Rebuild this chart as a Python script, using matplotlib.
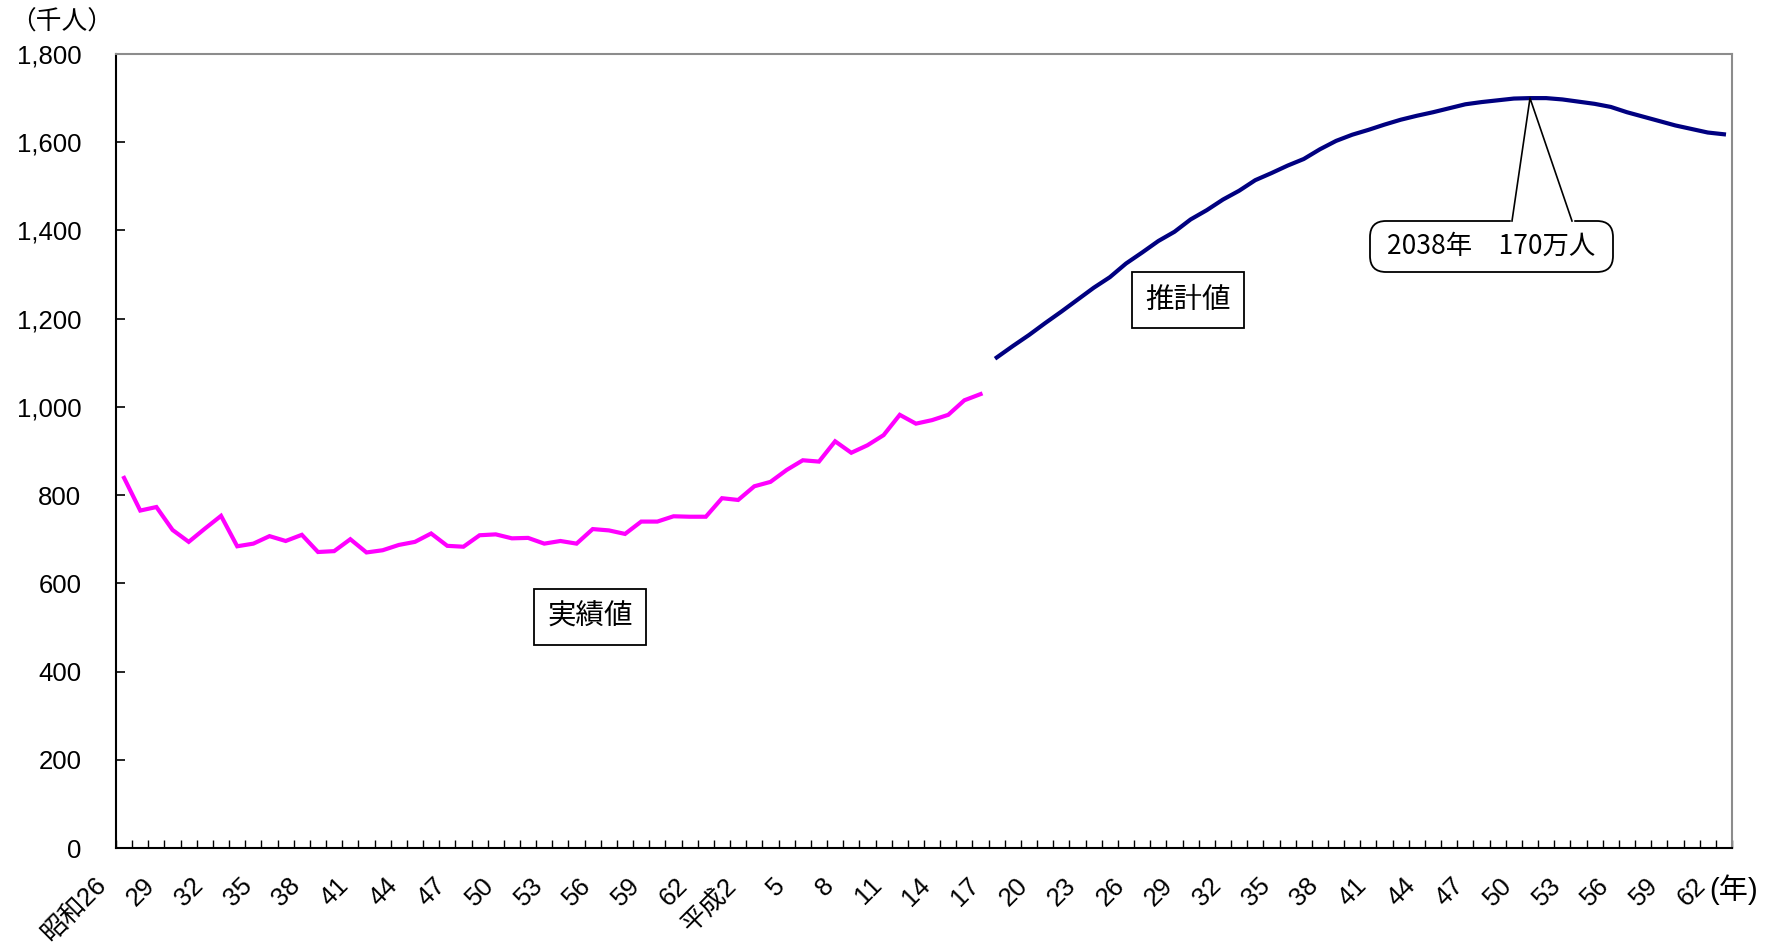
import numpy as np
import matplotlib
matplotlib.use("Agg")
import matplotlib.pyplot as plt
import matplotlib.transforms as mtransforms
from matplotlib.patches import FancyBboxPatch
from matplotlib.lines import Line2D

plt.rcParams['font.family'] = ['Liberation Sans', 'Noto Sans CJK JP']

# categories: 1951 (昭和26) .. 2050 (平成62), one slot per year
years = list(range(1951, 2051))

# actual deaths 1951-2004 [千人]
actual_deaths = [
    839, 765, 773, 721, 694, 724, 753, 684, 690, 707,
    696, 710, 671, 673, 700, 670, 675, 687, 694, 713,
    685, 683, 709, 711, 702, 703, 690, 696, 690, 723,
    720, 712, 740, 740, 752, 751, 751, 793, 789, 820,
    830, 857, 879, 876, 922, 896, 913, 936, 982, 962,
    970, 982, 1015, 1029,
]

# projected deaths 2005-2050 [千人]
projected_deaths = [
    1112, 1138, 1163, 1190, 1216, 1243, 1270, 1294, 1325, 1350,
    1376, 1397, 1425, 1446, 1470, 1490, 1514, 1530, 1547, 1562,
    1584, 1603, 1617, 1628, 1640, 1651, 1660, 1668, 1677, 1686,
    1691, 1695, 1699, 1700, 1700, 1697, 1692, 1687, 1680, 1668,
    1658, 1648, 1638, 1630, 1622, 1618,
]

# x-axis labels (every 3rd year)
tick_labels = ['昭和26', '29', '32', '35', '38', '41', '44', '47', '50', '53',
               '56', '59', '62', '平成2', '5', '8', '11', '14', '17', '20',
               '23', '26', '29', '32', '35', '38', '41', '44', '47', '50',
               '53', '56', '59', '62']

peak_year = 2038
peak_text = '2038年　170万人'

fig = plt.figure(figsize=(17.77, 9.43), dpi=100)
ax = fig.add_axes([116 / 1777, 95 / 943, 1616 / 1777, 794 / 943])

x_act = np.arange(len(actual_deaths))
x_proj = np.arange(len(actual_deaths), len(years))
ax.plot(x_act, actual_deaths, color='#FF00FF', lw=3.0, solid_joinstyle='miter')
ax.plot(x_proj, projected_deaths, color='#000080', lw=3.0)

ax.set_xlim(-0.5, len(years) - 0.5)
ax.set_ylim(0, 1800)

# y axis
ax.set_yticks(np.arange(0, 1801, 200))
ax.yaxis.set_major_formatter(matplotlib.ticker.StrMethodFormatter('{x:,.0f}'))
ax.tick_params(axis='y', direction='in', length=6.5, width=1.2, labelsize=18.5, pad=25)

# x axis: ticks between categories, labels placed by hand (rotated)
ax.set_xticks([])
ax.set_xticks(np.arange(-0.5, len(years), 1), minor=True)
ax.tick_params(axis='x', which='minor', direction='in', length=6, width=1.0)

lab_trans = mtransforms.blended_transform_factory(ax.transData, ax.transAxes) + \
    mtransforms.ScaledTranslation(-13 / 100, -25 / 100, fig.dpi_scale_trans)
for i, lab in enumerate(tick_labels):
    ax.text(i * 3, 0, lab, transform=lab_trans, rotation=45, ha='right', va='top',
            fontsize=18.5)

for side in ['left', 'bottom']:
    ax.spines[side].set_color('black')
    ax.spines[side].set_linewidth(1.5)
for side in ['top', 'right']:
    ax.spines[side].set_color('#8c8c8c')
    ax.spines[side].set_linewidth(1.5)

fig.text(10 / 1777, 1 - 23 / 943, '（千人）', fontsize=18.5, va='center', ha='left',
         family=['Noto Sans CJK JP'])
fig.text(1709 / 1777, 1 - 890 / 943, '(年)', fontsize=21, va='center', ha='left')

# labels in boxes
box_kw = dict(boxstyle='square,pad=0.45', fc='white', ec='black', lw=1.3)
ax.text(0.2933, 0.291, '実績値', transform=ax.transAxes, ha='center', va='center',
        fontsize=20.5, family=['Noto Sans CJK JP'], bbox=box_kw)
ax.text(0.6634, 0.690, '推計値', transform=ax.transAxes, ha='center', va='center',
        fontsize=20.5, family=['Noto Sans CJK JP'], bbox=box_kw)

# callout for the peak
inch = fig.dpi_scale_trans
bx0, bx1 = 13.70, 16.13
by0, by1 = (943 - 272) / 100, (943 - 221) / 100
callout = FancyBboxPatch((bx0, by0), bx1 - bx0, by1 - by0,
                         boxstyle='round,pad=0,rounding_size=0.16',
                         fc='white', ec='black', lw=1.3, transform=inch, zorder=5)
fig.patches.append(callout)
peak_idx = years.index(peak_year)
peak_val = projected_deaths[peak_idx - len(actual_deaths)]
px, py = ax.transData.transform((peak_idx, peak_val)) / fig.dpi
wx0, wx1 = 15.12, 15.72
fig.lines.append(Line2D([wx0, wx1], [by1, by1], color='white', lw=2.5,
                        transform=inch, zorder=6))
fig.lines.append(Line2D([wx0, px, wx1], [by1, py, by1], color='black', lw=1.2,
                        transform=inch, zorder=6))
fig.text((bx0 + bx1) / 2 / 17.77, 6.97 / 9.43, peak_text, fontsize=19,
         ha='center', va='center', family=['Noto Sans CJK JP'], zorder=7)

fig.savefig('out.png', dpi=100, facecolor='white')
